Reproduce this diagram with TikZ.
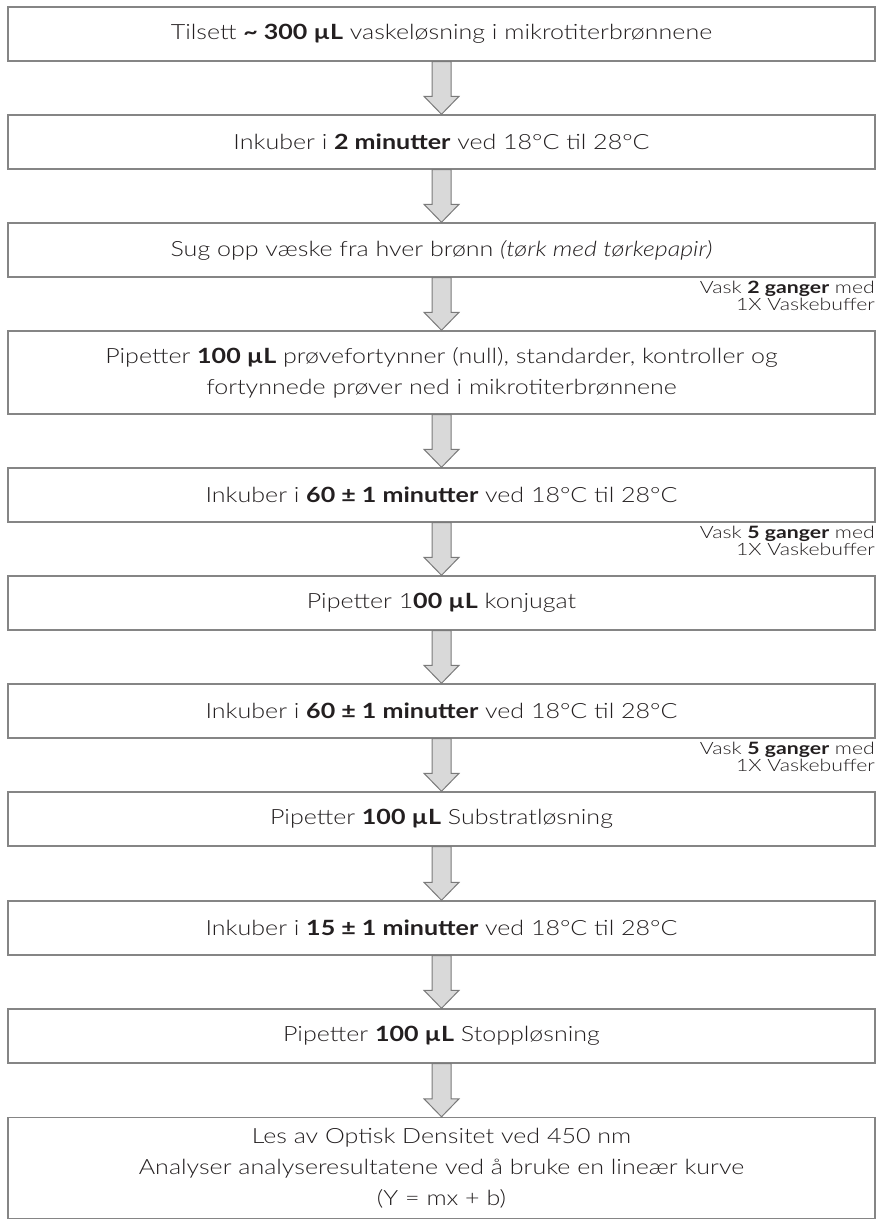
\documentclass[tikz,border=0pt]{standalone}
\usepackage{fontspec}
\setmainfont{Lato}
\usetikzlibrary{calc}
\newfontfamily\latoplain{Lato Light}[BoldFont=Lato Bold, ItalicFont=Lato Light Italic]
\newlength\wBoxA
\newlength\wBoxB
\newlength\wBoxC
\newlength\wLab
\settowidth\wBoxA{\latoplain\fontsize{21}{31}\selectfont Analyser analyseresultatene ved å bruke en lineær kurve}
\settowidth\wBoxB{\latoplain\fontsize{21}{31}\selectfont Tilsett \textbf{\textasciitilde\ 300 µL} vaskeløsning i mikrotiterbrønnene}
\settowidth\wBoxC{\latoplain\fontsize{21}{31}\selectfont Pipetter \textbf{100 µL} prøvefortynner (null), standarder, kontroller og}
\settowidth\wLab{\latoplain\fontsize{17}{17}\selectfont Vask \textbf{2 ganger} med}
\pgfmathsetmacro\boxstretch{(610+550+659)/(\wBoxA+\wBoxB+\wBoxC)}
\pgfmathsetmacro\labstretch{175/\wLab}
\edef\tmpdef{\noexpand\newfontfamily\noexpand\boxfont{Lato Light}[BoldFont=Lato Bold, ItalicFont=Lato Light Italic, FakeStretch=\boxstretch]}\tmpdef
\edef\tmpdef{\noexpand\newfontfamily\noexpand\labfont{Lato Light}[BoldFont=Lato Bold, ItalicFont=Lato Light Italic, FakeStretch=\labstretch]}\tmpdef
\definecolor{txt}{HTML}{231F20}
\definecolor{edge}{HTML}{858585}
\definecolor{arrfill}{HTML}{D9D9D9}
\definecolor{arredge}{HTML}{7A7A7A}
\tikzset{
  stepbox/.style={draw=edge, line width=1.4pt, rectangle, minimum width=867pt, inner sep=0pt, align=center, text=txt, font=\boxfont\fontsize{21}{31}\selectfont},
  sidelabel/.style={anchor=east, align=right, inner sep=0pt, text=txt, font=\labfont\fontsize{17}{17}\selectfont},
  blockarrow/.style={draw=arredge, fill=arrfill, line width=1pt, line join=miter}
}
\newcommand{\flowarrow}[2]{%
  \path[blockarrow] let \p1=(#1.south), \p2=(#2.north) in
    (\x1-9.5pt,\y1) -- (\x1+9.5pt,\y1) -- (\x1+9.5pt,\y2+18pt) -- (\x1+17.5pt,\y2+18pt)
    -- (\x1,\y2) -- (\x1-17.5pt,\y2+18pt) -- (\x1-9.5pt,\y2+18pt) -- cycle;}
\begin{document}
\begin{tikzpicture}[x=1pt,y=-1pt]
\useasboundingbox[fill=white] (0,0) rectangle (880,1220);
\node[stepbox, minimum height=54pt] (b1) at (441.5,34) {Tilsett \textbf{\textasciitilde\ 300 µL} vaskeløsning i mikrotiterbrønnene};
\node[stepbox, minimum height=54pt] (b2) at (441.5,142) {Inkuber i \textbf{2 minutter} ved 18°C til 28°C};
\node[stepbox, minimum height=54pt] (b3) at (441.5,250) {Sug opp væske fra hver brønn \textit{(tørk med tørkepapir)}};
\node[sidelabel] (l1) at (875,296) {Vask \textbf{2 ganger} med\\1X Vaskebuffer};
\node[stepbox, minimum height=83pt] (b4) at (441.5,372.5) {Pipetter \textbf{100 µL} prøvefortynner (null), standarder, kontroller og\\fortynnede prøver ned i mikrotiterbrønnene};
\node[stepbox, minimum height=54pt] (b5) at (441.5,495) {Inkuber i \textbf{60 ± 1 minutter} ved 18°C til 28°C};
\node[sidelabel] (l2) at (875,541) {Vask \textbf{5 ganger} med\\1X Vaskebuffer};
\node[stepbox, minimum height=54pt] (b6) at (441.5,603) {Pipetter 1\textbf{00 µL} konjugat};
\node[stepbox, minimum height=54pt] (b7) at (441.5,711) {Inkuber i \textbf{60 ± 1 minutter} ved 18°C til 28°C};
\node[sidelabel] (l3) at (875,757) {Vask \textbf{5 ganger} med\\1X Vaskebuffer};
\node[stepbox, minimum height=54pt] (b8) at (441.5,819) {Pipetter \textbf{100 µL} Substratløsning};
\node[stepbox, minimum height=54pt] (b9) at (441.5,928) {Inkuber i \textbf{15 ± 1 minutter} ved 18°C til 28°C};
\node[stepbox, minimum height=54pt] (b10) at (441.5,1036) {Pipetter \textbf{100 µL} Stoppløsning};
\node[stepbox, minimum height=101pt] (b11) at (441.5,1168) {Les av Optisk Densitet ved 450 nm\\Analyser analyseresultatene ved å bruke en lineær kurve\\(Y = mx + b)};
\flowarrow{b1}{b2}
\flowarrow{b2}{b3}
\flowarrow{b3}{b4}
\flowarrow{b4}{b5}
\flowarrow{b5}{b6}
\flowarrow{b6}{b7}
\flowarrow{b7}{b8}
\flowarrow{b8}{b9}
\flowarrow{b9}{b10}
\flowarrow{b10}{b11}
\end{tikzpicture}
\end{document}
